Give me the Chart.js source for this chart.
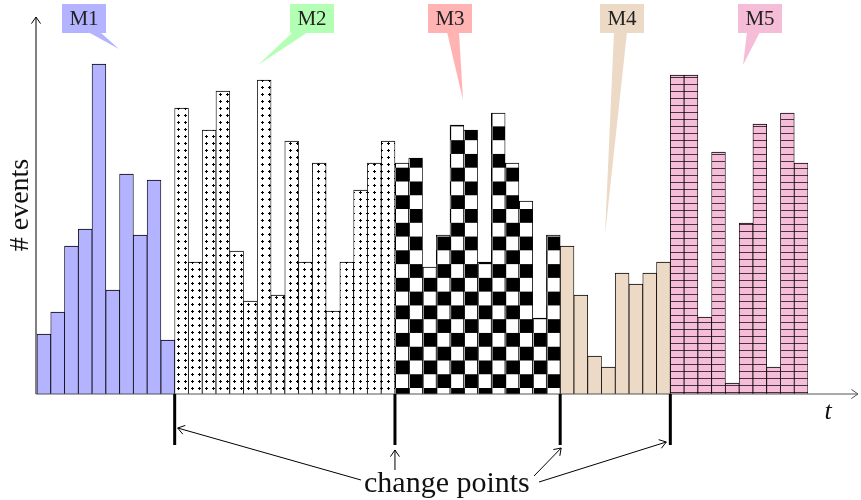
<!DOCTYPE html>
<html>
<head>
<meta charset="utf-8">
<script src="https://cdn.jsdelivr.net/npm/chart.js@4.4.1/dist/chart.umd.min.js"></script>
<style>
  html, body { margin: 0; padding: 0; background: #fff; }
  #wrap { width: 861px; height: 500px; }
</style>
</head>
<body>
<div id="wrap"><canvas id="changechart" width="861" height="500"></canvas></div>
<script>
// event counts per time bin, one array per regime
const m1Counts = [60, 82, 148, 165, 330, 104, 220, 159, 214, 54];
const m2Counts = [286, 132, 264, 303, 143, 93, 314, 99, 253, 132, 231, 83, 132, 204, 231, 253];
const m3Counts = [231, 236, 127, 159, 269, 264, 132, 281, 231, 193, 76, 159];
const m4Counts = [148, 99, 38, 27, 121, 110, 121, 132];
const m5Counts = [319, 319, 77, 242, 11, 171, 270, 27, 281, 231];
const modelNames = ["M1", "M2", "M3", "M4", "M5"];
const yLabel = "# events";
const xLabel = "t";
const cpLabel = "change points";

const SERIF = "'Liberation Serif', 'DejaVu Serif', serif";
const segments = [m1Counts, m2Counts, m3Counts, m4Counts, m5Counts];
const allCounts = [].concat(...segments);
const binLabels = allCounts.map((_, i) => String(i + 1));

// patterns
function makeTile(w, h, draw) {
    const c = document.createElement("canvas");
    c.width = w; c.height = h;
    draw(c.getContext("2d"));
    return c;
}
const tmp = document.createElement("canvas").getContext("2d");

const dots = tmp.createPattern(makeTile(7, 7, g => {
    g.fillStyle = "#fff"; g.fillRect(0, 0, 7, 7);
    g.fillStyle = "#000";
    g.fillRect(3, 2, 1, 3); g.fillRect(2, 3, 3, 1);
}), "repeat");

const checker = tmp.createPattern(makeTile(28, 28, g => {
    g.fillStyle = "#fff"; g.fillRect(0, 0, 28, 28);
    g.fillStyle = "#000";
    g.fillRect(0, 0, 14, 14); g.fillRect(14, 14, 14, 14);
}), "repeat");
checker.setTransform(new DOMMatrix([13.77 / 14, 0, 0, 13.77 / 14, 396, 388]));

const hlines = tmp.createPattern(makeTile(8, 7, g => {
    g.fillStyle = "#f6bdd8"; g.fillRect(0, 0, 8, 7);
    g.fillStyle = "rgba(40,25,35,0.85)"; g.fillRect(0, 0, 8, 1);
}), "repeat");

const fills = ["#b3b3ff", dots, checker, "#ecd9c6", hlines];
const calloutColors = ["#b3b3ff", "#b3ffb3", "#ffb3b3", "#ecd9c6", "#f6bdd8"];

// one dataset per regime, null outside its own bins
let start = 0;
const datasets = segments.map((seg, k) => {
    const data = allCounts.map((_, i) => (i >= start && i < start + seg.length) ? seg[i - start] : null);
    start += seg.length;
    return {
        label: modelNames[k],
        data: data,
        backgroundColor: fills[k],
        borderColor: "#000",
        borderWidth: {top: 1.2, left: 0.8, right: 0.8, bottom: 0}
    };
});

function arrowHead(ctx, x0, y0, x1, y1, size) {
    const a = Math.atan2(y1 - y0, x1 - x0);
    ctx.beginPath();
    ctx.moveTo(x1 - size * Math.cos(a - 0.6), y1 - size * Math.sin(a - 0.6));
    ctx.lineTo(x1, y1);
    ctx.lineTo(x1 - size * Math.cos(a + 0.6), y1 - size * Math.sin(a + 0.6));
    ctx.stroke();
}
function arrow(ctx, x0, y0, x1, y1) {
    ctx.beginPath(); ctx.moveTo(x0, y0); ctx.lineTo(x1, y1); ctx.stroke();
    arrowHead(ctx, x0, y0, x1, y1, 8);
}

const overlay = {
    id: "overlay",
    afterDraw(chart) {
        const ctx = chart.ctx;
        const area = chart.chartArea;
        const x = chart.scales.x, y = chart.scales.y;
        const base = y.getPixelForValue(0);
        ctx.save();

        // axes
        ctx.strokeStyle = "#000"; ctx.lineWidth = 1;
        arrow(ctx, 36, base, 36, 17);
        ctx.strokeStyle = "#555";
        arrow(ctx, 36, base, 858, base);

        // change point markers
        const cps = [];
        let n = 0;
        segments.slice(0, -1).forEach(seg => {
            n += seg.length;
            cps.push((x.getPixelForValue(n - 1) + x.getPixelForValue(n)) / 2);
        });
        ctx.strokeStyle = "#000"; ctx.lineWidth = 3;
        cps.forEach(cx => {
            ctx.beginPath(); ctx.moveTo(cx, base); ctx.lineTo(cx, base + 51); ctx.stroke();
        });

        // labels
        ctx.fillStyle = "#111";
        ctx.font = "30px " + SERIF;
        ctx.textAlign = "left"; ctx.textBaseline = "alphabetic";
        ctx.fillText(cpLabel, 364, 492);
        ctx.font = "italic 26px " + SERIF;
        ctx.textAlign = "center"; ctx.textBaseline = "middle";
        ctx.fillText(xLabel, 828, 412);
        ctx.save();
        ctx.translate(21, 205); ctx.rotate(-Math.PI / 2);
        ctx.font = "28px " + SERIF;
        ctx.fillText(yLabel, 0, 0);
        ctx.restore();

        // arrows from the label to the markers
        ctx.strokeStyle = "#000"; ctx.lineWidth = 1;
        arrow(ctx, 361, 480, cps[0] + 3, base + 34);
        arrow(ctx, cps[1], 470, cps[1], base + 56);
        arrow(ctx, 534, 476, cps[2] + 1, base + 54);
        arrow(ctx, 539, 482, cps[3] - 4, base + 48);

        // callouts
        const boxes = [
            {x: 62, tail: [88, 100], tip: [119, 49]},
            {x: 290, tail: [293, 308], tip: [258, 65]},
            {x: 428, tail: [447, 459], tip: [463, 100]},
            {x: 600, tail: [614, 627], tip: [605, 235]},
            {x: 738, tail: [747, 760], tip: [743, 65]}
        ];
        boxes.forEach((b, k) => {
            ctx.fillStyle = calloutColors[k];
            ctx.fillRect(b.x, 4, 44, 29);
            ctx.beginPath();
            ctx.moveTo(b.tail[0], 32); ctx.lineTo(b.tail[1], 32);
            ctx.lineTo(b.tip[0], b.tip[1]); ctx.closePath(); ctx.fill();
            ctx.fillStyle = "#222";
            ctx.font = "21px " + SERIF;
            ctx.textAlign = "center"; ctx.textBaseline = "middle";
            ctx.fillText(modelNames[k], b.x + 22, 19);
        });
        ctx.restore();
    }
};

new Chart(document.getElementById("changechart"), {
    type: "bar",
    data: { labels: binLabels, datasets: datasets },
    options: {
        responsive: false,
        devicePixelRatio: 1,
        animation: false,
        layout: { padding: { left: 37, right: 53, top: 34, bottom: 106 } },
        datasets: { bar: { grouped: false, categoryPercentage: 1, barPercentage: 1 } },
        plugins: { legend: { display: false }, tooltip: { enabled: false } },
        scales: {
            x: { display: false },
            y: { display: false, min: 0, max: 360 }
        }
    },
    plugins: [overlay]
});
</script>
</body>
</html>
